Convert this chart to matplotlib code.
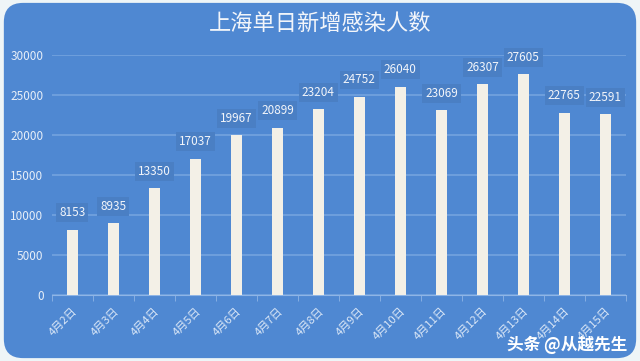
import matplotlib
matplotlib.use('Agg')
import matplotlib.pyplot as plt
from matplotlib.patches import FancyBboxPatch
import numpy as np

plt.rcParams['font.family'] = ['Noto Sans CJK SC', 'DejaVu Sans']

# data
days = ['4月2日', '4月3日', '4月4日', '4月5日', '4月6日', '4月7日', '4月8日',
        '4月9日', '4月10日', '4月11日', '4月12日', '4月13日', '4月14日', '4月15日']
cases = [8153, 8935, 13350, 17037, 19967, 20899, 23204,
         24752, 26040, 23069, 26307, 27605, 22765, 22591]

blue = '#4f88d2'
fig = plt.figure(figsize=(6.4, 3.61), dpi=100)
fig.patch.set_facecolor('#eef5f7')

# rounded blue panel drawn in a background axes
bg = fig.add_axes([0, 0, 1, 1], zorder=-5)
bg.set_axis_off()
bg.set_xlim(0, 1)
bg.set_ylim(0, 1)
bg.add_patch(FancyBboxPatch((0.006, 0.008), 0.988, 0.984, boxstyle='round,pad=0,rounding_size=0.03',
                            facecolor=blue, edgecolor='none', mutation_aspect=640 / 361))

ax = fig.add_axes([0.081, 0.183, 0.897, 0.665])
ax.set_facecolor('none')
x = np.arange(len(days))
ax.bar(x, cases, width=0.27, color='#f3f0e7', zorder=3)

for xi, v in zip(x, cases):
    ax.text(xi, v + 1300, str(v), ha='center', va='bottom', fontsize=8.5, color='#f2f5fa',
            zorder=4, bbox=dict(boxstyle='square,pad=0.25', facecolor='#4a7fc4', edgecolor='none'))

ax.set_xlim(-0.5, len(days) - 0.5)
ax.set_ylim(0, 30000)
ax.set_yticks(range(0, 30001, 5000))
ax.yaxis.grid(True, color='#77a5e0', linewidth=1.1, zorder=0)
ax.tick_params(axis='y', length=0, colors='#e6eef8', labelsize=8.5, pad=6)
ax.set_xticks(x)
ax.set_xticklabels(days, rotation=45, ha='right', rotation_mode='anchor', fontsize=8, color='#dce8f7')
ax.set_xticks(np.arange(-0.5, len(days)), minor=True)
ax.tick_params(axis='x', which='major', length=0, pad=8)
ax.tick_params(axis='x', which='minor', length=4, color='#8fb5e6', direction='out')
for s in ['top', 'right', 'left']:
    ax.spines[s].set_visible(False)
ax.spines['bottom'].set_color('#8fb5e6')

fig.text(0.5, 0.935, '上海单日新增感染人数', ha='center', va='center', fontsize=16, color='#f2f5fa')
fig.text(0.98, 0.045, '头条 @从越先生', ha='right', va='center', fontsize=12, color='white',
         fontweight='bold')

fig.savefig('out.png', dpi=100, facecolor=fig.get_facecolor())
